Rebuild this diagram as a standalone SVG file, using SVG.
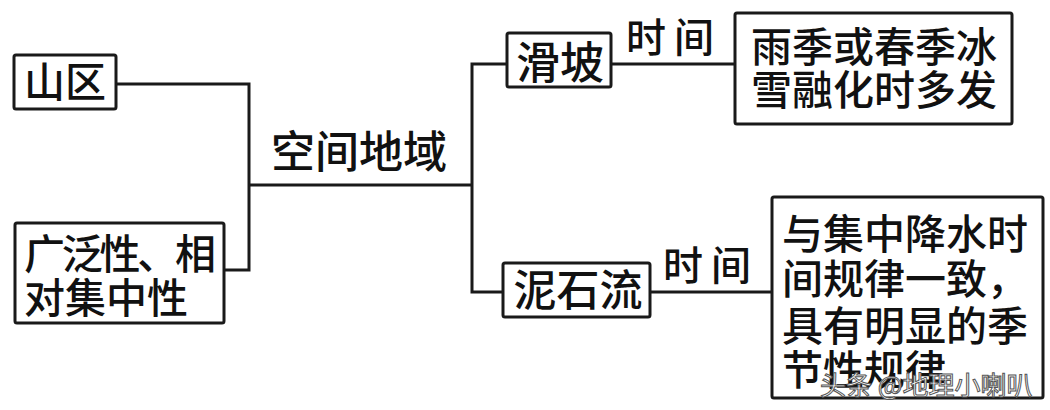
<svg xmlns="http://www.w3.org/2000/svg" width="1050" height="410" viewBox="0 0 1050 410">
<style>
.box{fill:#fff;stroke:#1a1a1a;stroke-width:3}
.ln{fill:none;stroke:#1a1a1a;stroke-width:3}
text{font-family:"Noto Sans CJK SC","Noto Sans",sans-serif;fill:#111;font-weight:500}
.wm{font-size:26px;fill:#fff;stroke:#555;stroke-width:1;font-weight:400}
</style>
<rect width="1050" height="410" fill="#fff"/>
<g id="connectors">
<polyline class="ln" points="116,84 249,84 249,270 224,270"/>
<line class="ln" x1="249" y1="185" x2="472" y2="185"/>
<polyline class="ln" points="507,64 472,64 472,292 503,292"/>
<line class="ln" x1="611" y1="64" x2="735" y2="64"/>
<line class="ln" x1="650" y1="292" x2="772" y2="292"/>
</g>
<g id="n-shanqu">
<rect class="box" x="14" y="55" width="102" height="54" rx="2"/>
<text x="65" y="97" font-size="41" text-anchor="middle">山区</text>
</g>
<g id="n-guangfan">
<rect class="box" x="15" y="223" width="209" height="100" rx="2"/>
<text x="24" y="269" font-size="41" textLength="192" lengthAdjust="spacing">广泛性、相</text>
<text x="24" y="313" font-size="41">对集中性</text>
</g>
<g id="n-kongjian">
<text x="359" y="168" font-size="44" text-anchor="middle">空间地域</text>
</g>
<g id="n-huapo">
<rect class="box" x="507" y="33" width="104" height="54" rx="2"/>
<text x="560" y="79" font-size="44" text-anchor="middle">滑坡</text>
</g>
<g id="n-time1">
<text x="674" y="52" font-size="40" text-anchor="middle" letter-spacing="8">时间</text>
</g>
<g id="n-yuji">
<rect class="box" x="735" y="13" width="277" height="111" rx="2"/>
<text x="874" y="62" font-size="41" text-anchor="middle">雨季或春季冰</text>
<text x="874" y="105" font-size="41" text-anchor="middle">雪融化时多发</text>
</g>
<g id="n-nishiliu">
<rect class="box" x="503" y="263" width="147" height="54" rx="2"/>
<text x="578" y="306" font-size="43" text-anchor="middle">泥石流</text>
</g>
<g id="n-time2">
<text x="711" y="280" font-size="40" text-anchor="middle" letter-spacing="8">时间</text>
</g>
<g id="n-jiangshui">
<rect class="box" x="772" y="197" width="271" height="201" rx="2"/>
<text x="782" y="249" font-size="41">与集中降水时</text>
<text x="782" y="294" font-size="41">间规律一致，</text>
<text x="782" y="341" font-size="41">具有明显的季</text>
<text x="782" y="385" font-size="41">节性规律</text>
</g>
<text class="wm" x="820" y="395">头条 @地理小喇叭</text>
</svg>
